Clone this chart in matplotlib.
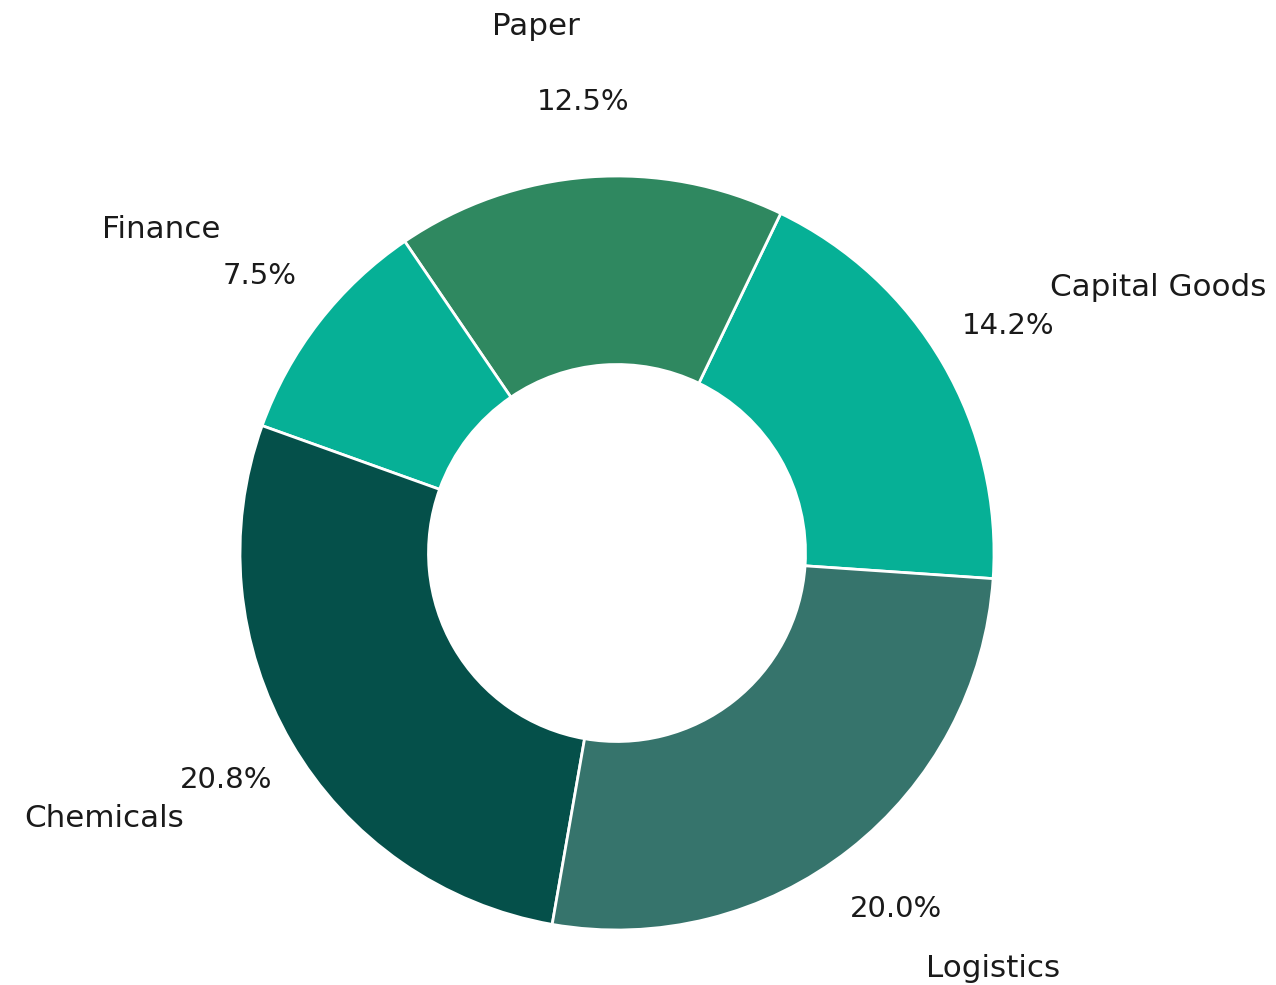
import matplotlib
matplotlib.use('Agg')
import matplotlib.pyplot as plt

''' data: shares as printed on the chart (they sum to 75, pie is normalised) '''
sectors = ['Capital Goods', 'Paper', 'Finance', 'Chemicals', 'Logistics']
shares  = [14.2, 12.5, 7.5, 20.8, 20.0]
colors  = ['#06b096', '#2f8860', '#06b096', '#05504a', '#36746c']

total = sum(shares)

def show_share(pct):
    return "{:.1f}%".format(pct * total / 100)

''' plotting '''
fig = plt.figure(figsize=(12.76, 9.85), dpi=100)
fig.set_facecolor('w')
ax = fig.add_axes([0, 0, 1, 1])

wedges, texts, autotexts = ax.pie(
    shares, labels=sectors, colors=colors, startangle=-3.9,
    autopct=show_share, pctdistance=1.2, labeldistance=1.4,
    wedgeprops=dict(width=0.5, edgecolor='w', linewidth=2),
    textprops=dict(color='#1a1a1a'))

''' labels sit a bit closer in x than in y '''
for t in texts:
    t.set_fontsize(22.3)
    x, y = t.get_position()
    t.set_position((x * 0.95, y))
for t in autotexts:
    t.set_fontsize(21)

''' place the donut: centre at (617, 553) px, radius 377 px '''
ax.set_xlim(-617 / 377, (1276 - 617) / 377)
ax.set_ylim(-(985 - 553) / 377, 553 / 377)
ax.set_aspect('equal', adjustable='datalim')
ax.axis('off')

plt.savefig("out.png", dpi=100)
